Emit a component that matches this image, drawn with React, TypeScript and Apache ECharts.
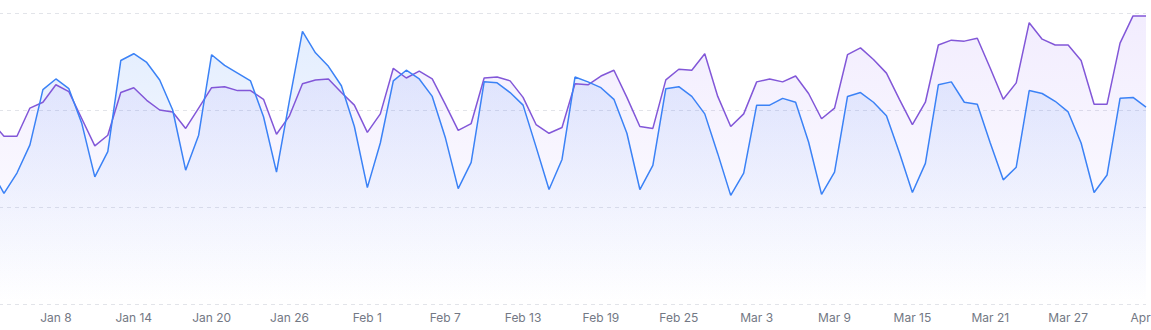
import { useEffect, useRef } from "react";
import * as echarts from "echarts";

// Daily dates from Jan 3 to Apr 2 (90 days)
const START_YEAR = 2025;
const START_MONTH = 0;
const START_DAY = 3;
const DAY_COUNT = 90;
const MONTH_NAMES = ["Jan", "Feb", "Mar", "Apr", "May", "Jun", "Jul", "Aug", "Sep", "Oct", "Nov", "Dec"];

const categories: string[] = [];
for (let i = 0; i < DAY_COUNT; i++) {
  const d = new Date(Date.UTC(START_YEAR, START_MONTH, START_DAY + i));
  categories.push(`${MONTH_NAMES[d.getUTCMonth()]} ${d.getUTCDate()}`);
}

const purpleSeries = [
  188, 173, 173, 202, 208, 226, 219, 191, 163, 174,
  218, 223, 210, 200, 198, 181, 202, 223, 224, 220,
  220, 211, 175, 194, 227, 231, 232, 218, 205, 177,
  196, 243, 233, 240, 232, 206, 179, 186, 233, 234,
  230, 213, 185, 176, 182, 227, 226, 235, 241, 213,
  183, 181, 231, 242, 241, 258, 214, 183, 196, 229,
  232, 229, 235, 217, 191, 202, 257, 264, 252, 238,
  211, 185, 208, 267, 272, 271, 274, 243, 211, 228,
  290, 273, 267, 267, 251, 206, 206, 269, 297, 297,
];

const blueSeries = [
  138, 114, 135, 164, 221, 232, 222, 186, 131, 157,
  251, 258, 249, 231, 200, 138, 174, 257, 246, 238,
  230, 193, 136, 210, 281, 259, 245, 225, 183, 120,
  166, 230, 241, 232, 214, 172, 119, 146, 229, 228,
  218, 205, 162, 118, 149, 234, 229, 223, 211, 176,
  118, 143, 222, 224, 214, 196, 155, 112, 135, 205,
  205, 212, 208, 167, 113, 136, 214, 218, 208, 194,
  156, 115, 145, 226, 229, 208, 206, 166, 128, 141,
  220, 217, 209, 198, 166, 115, 133, 212, 213, 203,
];

const Y_MIN = 0;
const Y_MAX = 300;
const Y_INTERVAL = 100;
const FIRST_LABEL_INDEX = 5;
const LABEL_STEP = 6;

export default function App() {
  const ref = useRef<HTMLDivElement>(null);

  useEffect(() => {
    if (!ref.current) return;
    const chart = echarts.init(ref.current, undefined, { renderer: "svg" });
    chart.setOption({
      animation: false,
      grid: { left: 0, right: 5, top: 13, bottom: 26, containLabel: false, outerBoundsMode: "none" },
      xAxis: {
        type: "category",
        boundaryGap: false,
        data: categories,
        axisLine: { show: false },
        axisTick: { show: false },
        splitLine: { show: false },
        axisLabel: {
          interval: (index: number) => index >= FIRST_LABEL_INDEX && (index - FIRST_LABEL_INDEX) % LABEL_STEP === 0,
          color: "#737884",
          fontSize: 12,
          fontFamily: "Inter, sans-serif",
          margin: 7,
          hideOverlap: false,
        },
      },
      yAxis: {
        type: "value",
        min: Y_MIN,
        max: Y_MAX,
        interval: Y_INTERVAL,
        axisLabel: { show: false },
        axisLine: { show: false },
        axisTick: { show: false },
        splitLine: { show: true, lineStyle: { color: "#e2e4e9", type: [4, 4], width: 1 } },
      },
      series: [
        {
          type: "line",
          data: purpleSeries,
          symbol: "none",
          lineStyle: { color: "#8257d8", width: 1.5 },
          itemStyle: { color: "#8257d8" },
          areaStyle: {
            color: new echarts.graphic.LinearGradient(0, 0, 0, 1, [
              { offset: 0, color: "rgba(139, 92, 246, 0.16)" },
              { offset: 1, color: "rgba(139, 92, 246, 0)" },
            ]),
          },
        },
        {
          type: "line",
          data: blueSeries,
          symbol: "none",
          lineStyle: { color: "#3b82f6", width: 1.5 },
          itemStyle: { color: "#3b82f6" },
          areaStyle: {
            color: new echarts.graphic.LinearGradient(0, 0, 0, 1, [
              { offset: 0, color: "rgba(59, 130, 246, 0.2)" },
              { offset: 1, color: "rgba(59, 130, 246, 0)" },
            ]),
          },
        },
      ],
    });
    return () => chart.dispose();
  }, []);

  return (
    <div
      ref={ref}
      style={{ position: "absolute", left: -9, top: 0, width: 1160, height: 330, overflow: "hidden" }}
    />
  );
}
